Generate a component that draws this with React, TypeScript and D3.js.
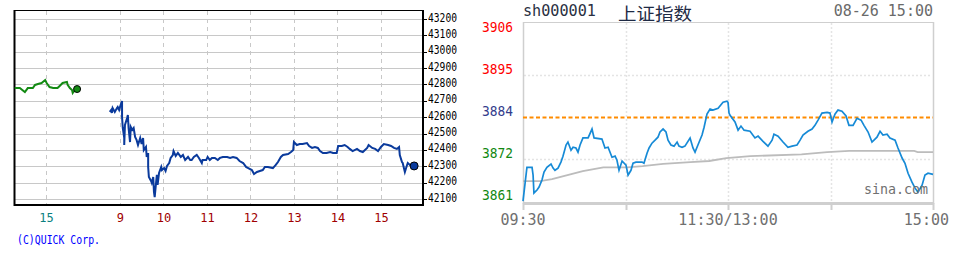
import React from "react";
import * as d3 from "d3";

// ---------------- Left chart: Nikkei 225 (QUICK) ----------------
// time = minutes relative to today's 09:00 on the chart's compressed axis
const nkPrevTimes = [-145, -138, -131, -127, -120, -117, -113, -108, -103, -101, -97, -92, -86, -83, -79, -73, -72, -69, -66, -65, -62, -59];
const nkPrevValues = [42778, 42778, 42754, 42778, 42778, 42797, 42803, 42809, 42827, 42809, 42784, 42778, 42778, 42791, 42809, 42815, 42797, 42778, 42766, 42748, 42766, 42772];

const nkTimes = [
  -14, -12, -11, -10, -7, -4, -3, -1, 1, 3, 3, 4, 6, 6, 7, 10, 11, 12, 14, 15,
  17, 19, 21, 23, 25, 28, 30, 32, 33, 36, 37, 39, 39, 40, 43, 44, 46, 47, 48, 50,
  51, 52, 54, 57, 58, 61, 63, 65, 68, 70, 73, 74, 77, 80, 84, 87, 90, 94, 97, 99,
  102, 106, 109, 113, 114, 119, 121, 124, 127, 131, 135, 138, 142, 148, 152, 156, 161, 165, 170, 174,
  177, 182, 185, 189, 193, 197, 200, 204, 211, 215, 218, 222, 225, 232, 236, 239, 240, 244, 248, 252,
  258, 261, 265, 269, 273, 276, 280, 285, 290, 294, 299, 301, 306, 310, 314, 317, 321, 327, 331, 335,
  341, 343, 348, 352, 356, 360, 364, 370, 374, 378, 382, 385, 386, 389, 390, 393, 396, 397, 400, 403,
];
const nkValues = [
  42632, 42644, 42626, 42656, 42632, 42656, 42662, 42644, 42674, 42699, 42601, 42534, 42473, 42430, 42552, 42595, 42613, 42534, 42448, 42540,
  42522, 42534, 42479, 42461, 42430, 42473, 42436, 42473, 42399, 42418, 42357, 42381, 42296, 42234, 42210, 42198, 42234, 42143, 42112, 42204,
  42247, 42186, 42259, 42296, 42277, 42289, 42271, 42302, 42320, 42351, 42369, 42393, 42363, 42381, 42357, 42369, 42338, 42357, 42338, 42338,
  42357, 42369, 42351, 42320, 42338, 42338, 42357, 42338, 42351, 42351, 42338, 42351, 42357, 42357, 42351, 42357, 42351, 42332, 42320, 42296,
  42289, 42277, 42253, 42265, 42271, 42277, 42296, 42296, 42289, 42308, 42326, 42357, 42369, 42375, 42387, 42399, 42448, 42430, 42436, 42436,
  42442, 42424, 42412, 42418, 42412, 42393, 42381, 42381, 42387, 42381, 42381, 42424, 42424, 42430, 42418, 42406, 42393, 42406, 42393, 42387,
  42412, 42430, 42412, 42406, 42393, 42418, 42436, 42430, 42424, 42412, 42406, 42418, 42369, 42326, 42320, 42265, 42308, 42320, 42308, 42302,
];
const nkYTicks = [43200, 43100, 43000, 42900, 42800, 42700, 42600, 42500, 42400, 42300, 42200, 42100];
const nkXTickTimes = [-102, 0, 60, 120, 180, 240, 300, 360];
const nkXTickLabels = ["15", "9", "10", "11", "12", "13", "14", "15"];
const nkXTickIsPrev = [true, false, false, false, false, false, false, false];

// ---------------- Right chart: 上证指数 (sina) ----------------
// time = minutes of trading since 09:30 (0..240)
const shTimes = [
  0, 2.3, 5.3, 5.9, 6.4, 8.2, 9.4, 11.1, 12.3, 14.0, 16.4, 17.6, 18.7, 20.5, 22.2, 23.4, 25.2, 26.3, 28.1, 29.3,
  31.0, 32.2, 33.4, 35.1, 38.1, 40.4, 41.6, 46.2, 48.0, 49.8, 52.1, 53.9, 55.0, 56.2, 58.0, 60.3, 61.5, 63.2, 64.4, 66.1,
  69.7, 70.8, 72.6, 73.8, 75.5, 77.3, 79.0, 80.2, 82.0, 83.7, 84.9, 86.6, 88.4, 90.2, 91.3, 93.1, 94.8, 97.8, 99.5, 100.7,
  102.4, 104.8, 106.0, 107.7, 109.5, 111.2, 114.2, 117.1, 119.4, 120.0, 120.6, 121.2, 124.1, 125.9, 127.6, 129.4, 132.9, 135.8, 137.6, 140.5,
  143.4, 145.8, 146.9, 149.3, 152.2, 155.1, 157.5, 160.4, 162.2, 163.9, 166.8, 169.2, 170.9, 172.7, 175.0, 178.0, 179.7, 180.9, 182.6, 184.4,
  186.7, 189.1, 190.8, 193.2, 195.5, 197.9, 199.6, 202.0, 204.3, 207.2, 209.0, 210.7, 213.1, 214.8, 217.8, 219.5, 221.9, 223.6, 225.4, 227.7,
  229.5, 231.2, 233.6, 235.3, 237.1, 240,
];
const shValues = [
  3861.1, 3870.2, 3870.2, 3868.1, 3863.3, 3864.1, 3864.9, 3866.8, 3868.9, 3870.2, 3871.1, 3870.0, 3869.4, 3870.0, 3871.6, 3873.2, 3876.2, 3877.0, 3874.8, 3875.6,
  3875.4, 3874.3, 3876.2, 3878.1, 3878.1, 3880.5, 3878.1, 3877.8, 3875.4, 3875.6, 3872.9, 3873.2, 3872.1, 3869.4, 3871.9, 3870.8, 3868.1, 3869.4, 3871.3, 3871.6,
  3871.6, 3871.3, 3874.0, 3875.4, 3876.7, 3877.5, 3878.3, 3879.7, 3880.5, 3879.7, 3877.5, 3876.2, 3875.9, 3877.0, 3875.9, 3875.6, 3875.9, 3878.1, 3875.4, 3874.3,
  3876.2, 3878.9, 3881.0, 3884.5, 3885.9, 3885.6, 3886.1, 3887.7, 3888.0, 3887.7, 3884.8, 3884.2, 3882.4, 3880.2, 3881.3, 3880.2, 3879.9, 3878.1, 3878.6, 3877.2,
  3875.9, 3877.5, 3879.1, 3878.6, 3877.0, 3875.6, 3875.9, 3876.2, 3877.5, 3878.9, 3879.9, 3880.5, 3881.5, 3882.9, 3884.8, 3885.0, 3884.8, 3882.4, 3884.5, 3885.6,
  3885.3, 3884.0, 3881.5, 3881.5, 3883.4, 3882.9, 3881.5, 3879.7, 3877.0, 3878.3, 3879.9, 3878.9, 3879.1, 3878.1, 3877.5, 3875.4, 3872.7, 3871.3, 3868.6, 3866.2,
  3864.6, 3863.5, 3865.4, 3868.1, 3868.6, 3868.3,
];
const shAvgTimes = [0, 10, 17, 26, 35, 47, 61, 70, 82, 98, 109, 119, 133, 163, 178, 191, 229, 231, 240];
const shAvgValues = [3866.5, 3866.5, 3867.0, 3868.1, 3869.2, 3870.2, 3870.2, 3870.5, 3871.1, 3871.6, 3871.9, 3872.7, 3873.2, 3873.7, 3874.3, 3874.6, 3874.6, 3874.3, 3874.3];
const shPrevClose = 3883.7;
const shYTicks = [3906.3, 3895.0, 3883.7, 3872.4, 3861.1];
const shYTickLabels = ["3906", "3895", "3884", "3872", "3861"];
const shYTickColors = ["#ff0000", "#ff0000", "#333c8c", "#118811", "#118811"];
const shGridTimes = [60, 120, 180];
const shTickTimes = [0, 60, 120, 180, 240];
const shXLabelTimes = [0, 120, 240];
const shXLabels = ["09:30", "11:30/13:00", "15:00"];

const MONO = "'DejaVu Sans Mono', monospace";

function Nikkei() {
  const x = d3.scaleLinear().domain([-146, 418]).range([14, 423]);
  const y = d3.scaleLinear().domain([42100, 43200]).range([199, 19]);
  const prev = nkPrevTimes.map((t, i) => [t, nkPrevValues[i]] as [number, number]);
  const today = nkTimes.map((t, i) => [t, nkValues[i]] as [number, number]);
  const line = d3
    .line<[number, number]>()
    .x((d) => x(d[0]))
    .y((d) => y(d[1]));
  const lastPrev = prev[prev.length - 1];
  const lastToday = today[today.length - 1];
  return (
    <g>
      {nkYTicks.map((v) => (
        <line key={"h" + v} x1={14} x2={423} y1={Math.round(y(v)) + 0.5} y2={Math.round(y(v)) + 0.5} stroke="#c8c8c8" strokeWidth={1} />
      ))}
      {nkXTickTimes.map((t, i) => (
        <line key={"v" + i} x1={Math.round(x(t)) + 0.5} x2={Math.round(x(t)) + 0.5} y1={11} y2={204} stroke="#c8c8c8" strokeWidth={1} strokeDasharray="4,4" />
      ))}
      {/* frame */}
      <line x1={14} x2={424} y1={10.5} y2={10.5} stroke="#000" strokeWidth={1} />
      <line x1={14.5} x2={14.5} y1={10} y2={206} stroke="#000" strokeWidth={2} />
      <line x1={14} x2={424} y1={205} y2={205} stroke="#000" strokeWidth={2} />
      <line x1={423} x2={423} y1={10} y2={206} stroke="#000" strokeWidth={2} />
      {nkYTicks.map((v) => (
        <line key={"rt" + v} x1={423} x2={427} y1={Math.round(y(v)) + 0.5} y2={Math.round(y(v)) + 0.5} stroke="#000" strokeWidth={1} />
      ))}
      {nkYTicks.map((v) => (
        <text key={"yl" + v} x={428} y={y(v) + 2.5} fontFamily={MONO} fontSize={11.5} textLength={29} lengthAdjust="spacingAndGlyphs" fill="#000">
          {String(v)}
        </text>
      ))}
      {nkXTickTimes.map((t, i) => (
        <text key={"xl" + i} x={x(t) + 0.5} y={222} textAnchor="middle" fontFamily={MONO} fontSize={12} fill={nkXTickIsPrev[i] ? "#0a7f7f" : "#a00000"}>
          {nkXTickLabels[i]}
        </text>
      ))}
      <path d={line(prev) || ""} fill="none" stroke="#138a13" strokeWidth={2} />
      <path d={line(today) || ""} fill="none" stroke="#0a3a9c" strokeWidth={2} />
      <circle cx={x(lastPrev[0])} cy={y(lastPrev[1])} r={3.5} fill="#138a13" stroke="#000" strokeWidth={1} />
      <circle cx={x(lastToday[0]) + 2} cy={y(lastToday[1])} r={4} fill="#0a3a9c" stroke="#000" strokeWidth={1} />
      <text x={17} y={244} fontFamily={MONO} fontSize={12.5} textLength={83} lengthAdjust="spacingAndGlyphs" fill="#0000ff">
        (C)QUICK Corp.
      </text>
    </g>
  );
}

function Sina() {
  const x = d3.scaleLinear().domain([0, 240]).range([523, 933]);
  const y = d3.scaleLinear().domain([3860.6, 3909.3]).range([203, 22]);
  const pts = shTimes.map((t, i) => [t, shValues[i]] as [number, number]);
  const avg = shAvgTimes.map((t, i) => [t, shAvgValues[i]] as [number, number]);
  const line = d3
    .line<[number, number]>()
    .x((d) => x(d[0]))
    .y((d) => y(d[1]));
  const pcY = Math.round(y(shPrevClose)) + 0.5;
  return (
    <g>
      {/* dotted grid */}
      {[shYTicks[1], shYTicks[3]].map((v) => (
        <line key={"g" + v} x1={524} x2={932} y1={Math.round(y(v)) + 0.5} y2={Math.round(y(v)) + 0.5} stroke="#e4e4e4" strokeWidth={1.5} strokeDasharray="2,2" />
      ))}
      {shGridTimes.map((t) => (
        <line key={"gv" + t} x1={Math.round(x(t)) + 0.5} x2={Math.round(x(t)) + 0.5} y1={23} y2={202} stroke="#e4e4e4" strokeWidth={1.5} strokeDasharray="2,2" />
      ))}
      {/* frame */}
      <line x1={523} x2={934} y1={22.5} y2={22.5} stroke="#cfcfcf" strokeWidth={1} />
      <line x1={523.5} x2={523.5} y1={22} y2={204} stroke="#cfcfcf" strokeWidth={1.5} />
      <line x1={933.5} x2={933.5} y1={22} y2={204} stroke="#cfcfcf" strokeWidth={1.5} />
      <line x1={523} x2={934} y1={203.5} y2={203.5} stroke="#cfcfcf" strokeWidth={3} />
      {shTickTimes.map((t) => (
        <line key={"tk" + t} x1={Math.round(x(t)) + 0.5} x2={Math.round(x(t)) + 0.5} y1={203} y2={210} stroke="#cfcfcf" strokeWidth={2} />
      ))}
      <path d={line(avg) || ""} fill="none" stroke="#bcbcbc" strokeWidth={1.8} />
      <line x1={523} x2={933} y1={pcY} y2={pcY} stroke="#ff8c00" strokeWidth={2} strokeDasharray="4,2.5" />
      <path d={line(pts) || ""} fill="none" stroke="#168ad6" strokeWidth={1.7} />
      {shYTicks.map((v, i) => (
        <text key={"yl" + i} x={513} y={y(v) - 1} textAnchor="end" fontFamily={MONO} fontSize={14} textLength={31} lengthAdjust="spacingAndGlyphs" fill={shYTickColors[i]}>
          {shYTickLabels[i]}
        </text>
      ))}
      {shXLabelTimes.map((t, i) => (
        <text
          key={"xl" + i}
          x={i === shXLabels.length - 1 ? x(t) + 16 : x(t)}
          y={225}
          textAnchor={i === shXLabels.length - 1 ? "end" : "middle"}
          fontFamily={MONO}
          fontSize={15}
          fill="#707070"
        >
          {shXLabels[i]}
        </text>
      ))}
      <text x={864} y={194} fontFamily={MONO} fontSize={14} textLength={64} lengthAdjust="spacingAndGlyphs" fill="#707070">
        sina.com
      </text>
      <text x={523} y={16} fontFamily={MONO} fontSize={15} textLength={73} lengthAdjust="spacingAndGlyphs" fill="#2a3042">
        sh000001
      </text>
      <text x={618} y={19.5} fontFamily="'Noto Sans CJK SC', sans-serif" fontSize={16.5} textLength={74} lengthAdjust="spacingAndGlyphs" fill="#1e2a44">
        上证指数
      </text>
      <text x={933} y={16} textAnchor="end" fontFamily={MONO} fontSize={15} fill="#6a6a6a">
        08-26 15:00
      </text>
    </g>
  );
}

export default function App() {
  return (
    <svg
      width={955}
      height={260}
      viewBox="0 0 955 260"
      style={{ position: "absolute", left: 0, top: 0, background: "#fff" }}
    >
      <rect x={0} y={0} width={955} height={260} fill="#fff" />
      <Nikkei />
      <Sina />
    </svg>
  );
}
